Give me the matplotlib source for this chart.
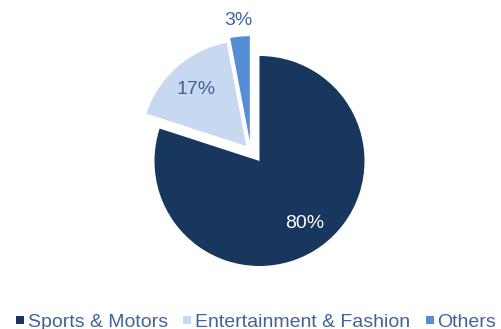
import numpy as np
import matplotlib
matplotlib.use("Agg")
import matplotlib.pyplot as plt
from matplotlib.lines import Line2D

plt.rcParams["font.family"] = ["Liberation Sans", "DejaVu Sans"]

# ── Data ─────────────────────────────────────────────────────────
categories = ["Sports & Motors", "Entertainment & Fashion", "Others"]
shares = [80, 17, 3]

# ── Style ────────────────────────────────────────────────────────
colors = ["#17375E", "#C6D9F1", "#558ED5"]
explode = [0.0, 0.19, 0.0]
label_dist = [0.74, 0.72, 1.15]
label_colors = ["white", "#41639A", "#41639A"]
text_color = "#41639A"

fig = plt.figure(figsize=(5.01, 3.29), dpi=100)
ax = fig.add_axes([0, 0, 1, 1])

wedges, _ = ax.pie(shares, colors=colors, explode=explode, startangle=90,
                   counterclock=False, radius=1.0,
                   wedgeprops=dict(linewidth=0))

# the small slice is pulled out a bit further to the left
ang = np.deg2rad(116)
wedges[2].set_center((0.21 * np.cos(ang), 0.21 * np.sin(ang)))

# percentage labels placed along each wedge's bisector
for w, val, d, c in zip(wedges, shares, label_dist, label_colors):
    mid = np.deg2rad((w.theta1 + w.theta2) / 2)
    cx, cy = w.center
    ax.text(cx + d * np.cos(mid), cy + d * np.sin(mid), f"{val}%",
            ha="center", va="center", fontsize=14, color=c)

# pie centre sits at (259.5, 161) px with ~105 px radius
scale = 105
ax.set_xlim(-259.5 / scale, (501 - 259.5) / scale)
ax.set_ylim(-(329 - 161) / scale, 161 / scale)
ax.set_aspect("auto")
ax.axis("off")

handles = [Line2D([], [], marker="s", linestyle="none", markersize=6,
                  markerfacecolor=c, markeredgewidth=0) for c in colors]
fig.legend(handles, categories, loc="lower center", ncol=3,
           bbox_to_anchor=(0.51, -0.06), frameon=False, fontsize=14,
           labelcolor=text_color, handlelength=0.5, handletextpad=0.15,
           columnspacing=0.75)

fig.savefig("out.png", dpi=100)
